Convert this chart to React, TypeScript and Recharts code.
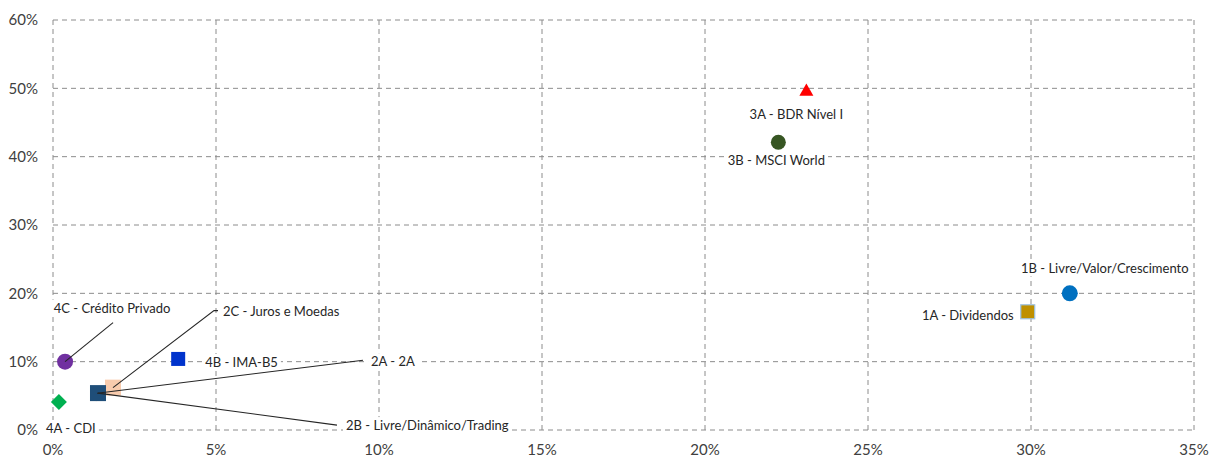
import React from 'react';
import { ScatterChart, Scatter, XAxis, YAxis, CartesianGrid } from 'recharts';

// ---- data ----
const seriesNames = [
  '2C - Juros e Moedas',
  '2A - 2A',
  '2B - Livre/Dinâmico/Trading',
  '4A - CDI',
  '4C - Crédito Privado',
  '4B - IMA-B5',
  '1A - Dividendos',
  '1B - Livre/Valor/Crescimento',
  '3B - MSCI World',
  '3A - BDR Nível I',
];
const riskValues = [0.0184, 0.0132, 0.0138, 0.0018, 0.0037, 0.0384, 0.299, 0.3119, 0.2225, 0.2311];
const returnValues = [0.062, 0.048, 0.054, 0.041, 0.1, 0.104, 0.173, 0.2, 0.421, 0.497];
const xTicks = [0, 0.05, 0.1, 0.15, 0.2, 0.25, 0.3, 0.35];
const yTicks = [0, 0.1, 0.2, 0.3, 0.4, 0.5, 0.6];

// ---- styles (not data) ----
type Sty = {
  color: string;
  shape: 'circle' | 'square' | 'triangle' | 'diamond';
  size: number;
  stroke?: string;
  label: { dx: number; dy: number; anchor: 'start' | 'middle' | 'end' };
  leader?: number[][];
};
const styles: Record<string, Sty> = {
  '2C - Juros e Moedas': { color: '#F8CBAD', shape: 'square', size: 8, label: { dx: 110, dy: -77, anchor: 'start' }, leader: [[0, 0], [101, -77], [105, -77]] },
  '2A - 2A': { color: '#F04020', shape: 'diamond', size: 4, label: { dx: 275, dy: -36, anchor: 'start' }, leader: [[1, -4], [267, -37]] },
  '2B - Livre/Dinâmico/Trading': { color: '#1F4E79', shape: 'square', size: 8, label: { dx: 248, dy: 32, anchor: 'start' }, leader: [[0, 0], [239, 32]] },
  '4A - CDI': { color: '#00B050', shape: 'diamond', size: 8, label: { dx: 12, dy: 26, anchor: 'middle' } },
  '4C - Crédito Privado': { color: '#7030A0', shape: 'circle', size: 8, label: { dx: 47, dy: -54, anchor: 'middle' }, leader: [[0, 0], [48, -39]] },
  '4B - IMA-B5': { color: '#0033CC', shape: 'square', size: 7, label: { dx: 27, dy: 3, anchor: 'start' } },
  '1A - Dividendos': { color: '#BF9000', shape: 'square', size: 7, stroke: '#9DC3E6', label: { dx: -14, dy: 3, anchor: 'end' } },
  '1B - Livre/Valor/Crescimento': { color: '#0070C0', shape: 'circle', size: 8, label: { dx: 35, dy: -25, anchor: 'middle' } },
  '3B - MSCI World': { color: '#375623', shape: 'circle', size: 7.5, label: { dx: -2, dy: 18, anchor: 'middle' } },
  '3A - BDR Nível I': { color: '#FF0000', shape: 'triangle', size: 7, label: { dx: -10, dy: 24, anchor: 'middle' } },
};

const FONT = 'Lato, "Open Sans", sans-serif';
const LABEL_SIZE = 13;
const pct = (v: number) => `${Math.round(v * 100)}%`;

let ctx: CanvasRenderingContext2D | null = null;
const measure = (t: string) => {
  if (!ctx && typeof document !== 'undefined') {
    ctx = document.createElement('canvas').getContext('2d');
  }
  if (!ctx) return t.length * 6.6;
  ctx.font = `${LABEL_SIZE}px Lato`;
  return ctx.measureText(t).width;
};

const MarkerShape = (props: any) => {
  const { cx, cy, payload } = props;
  const s = styles[payload.name];
  const r = s.size;
  const stroke = s.stroke || 'none';
  if (s.shape === 'circle') return <circle cx={cx} cy={cy} r={r} fill={s.color} stroke={stroke} />;
  if (s.shape === 'square')
    return <rect x={cx - r} y={cy - r} width={2 * r} height={2 * r} fill={s.color} stroke={stroke} strokeWidth={1.2} />;
  if (s.shape === 'triangle')
    return <polygon points={`${cx},${cy - r} ${cx + r},${cy + r * 0.75} ${cx - r},${cy + r * 0.75}`} fill={s.color} stroke={stroke} />;
  return <polygon points={`${cx},${cy - r} ${cx + r},${cy} ${cx},${cy + r} ${cx - r},${cy}`} fill={s.color} stroke={stroke} />;
};

const LabelShape = (props: any) => {
  const { cx, cy, payload } = props;
  const s = styles[payload.name];
  const tx = cx + s.label.dx;
  const ty = cy + s.label.dy;
  const w = measure(payload.name);
  const left = s.label.anchor === 'start' ? tx : s.label.anchor === 'end' ? tx - w : tx - w / 2;
  return (
    <g>
      {s.leader && (
        <polyline
          points={s.leader.map((p) => `${cx + p[0]},${cy + p[1]}`).join(' ')}
          fill="none"
          stroke="#262626"
          strokeWidth={1.1}
        />
      )}
      <rect x={left - 3} y={ty - 8} width={w + 6} height={16} fill="#ffffff" />
      <text x={tx} y={ty} textAnchor={s.label.anchor} dominantBaseline="central" fontFamily={FONT} fontSize={LABEL_SIZE} fill="#262626">
        {payload.name}
      </text>
    </g>
  );
};

const seriesData = seriesNames.map((name, i) => [{ name, x: riskValues[i], y: returnValues[i] }]);

export default function App() {
  return (
    <ScatterChart width={1201} height={451} margin={{ top: 12, right: 15, left: 0, bottom: 0 }}>
      <CartesianGrid stroke="#8c8c8c" strokeDasharray="5 4" horizontalValues={yTicks} verticalValues={xTicks} />
      <XAxis
        type="number"
        dataKey="x"
        domain={[0, 0.35]}
        ticks={xTicks}
        tickFormatter={pct}
        axisLine={false}
        tickLine={false}
        tickSize={0}
        tickMargin={14}
        height={29}
        tick={{ fontFamily: FONT, fontSize: 15, fill: '#404040' }}
        interval={0}
      />
      <YAxis
        type="number"
        dataKey="y"
        domain={[0, 0.6]}
        ticks={yTicks}
        tickFormatter={pct}
        axisLine={false}
        tickLine={false}
        tickSize={0}
        tickMargin={15}
        width={45}
        tick={{ fontFamily: FONT, fontSize: 15, fill: '#404040' }}
        interval={0}
      />
      {seriesData.map((d, i) => (
        <Scatter key={'m' + i} data={d} shape={MarkerShape} isAnimationActive={false} />
      ))}
      {seriesData.map((d, i) => (
        <Scatter key={'l' + i} data={d} shape={LabelShape} isAnimationActive={false} />
      ))}
    </ScatterChart>
  );
}
